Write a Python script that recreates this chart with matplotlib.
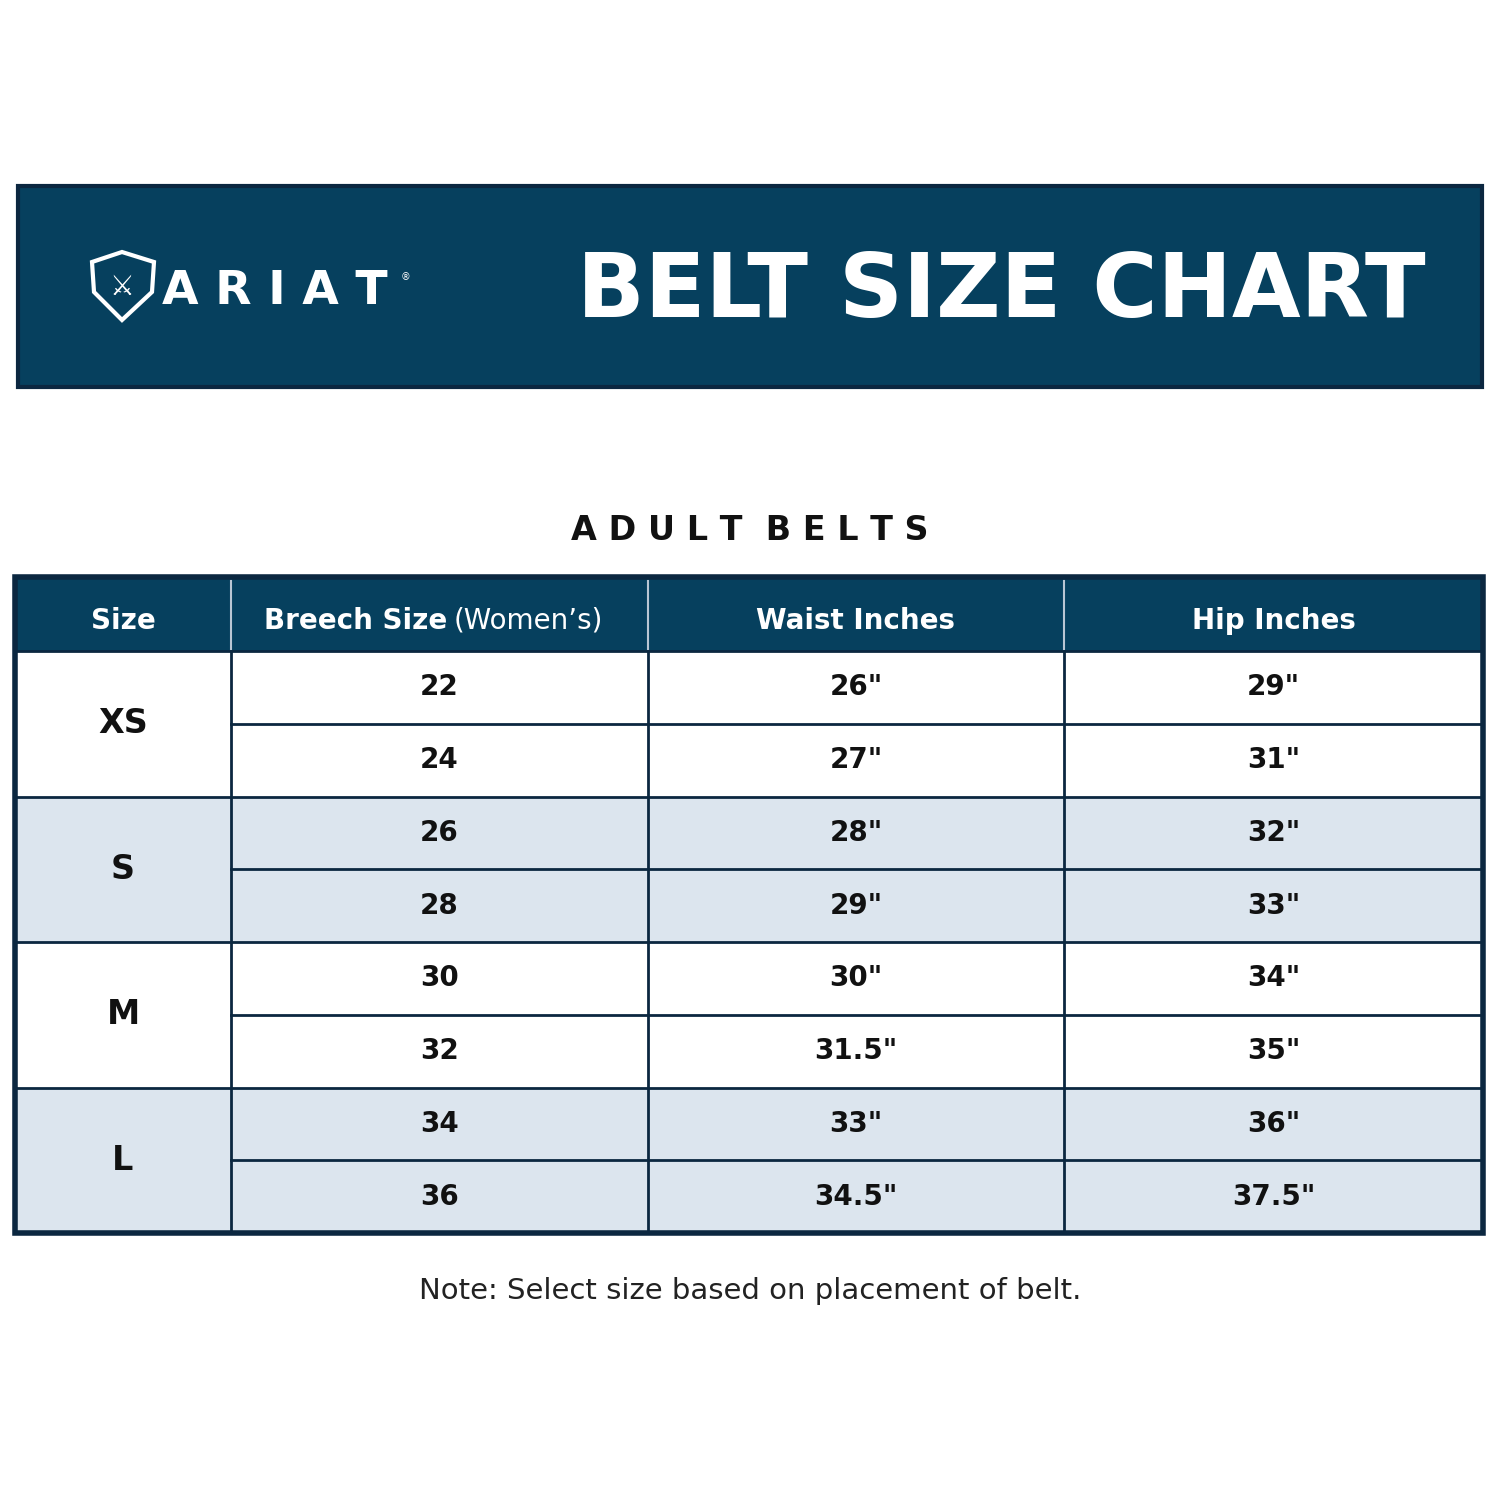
import matplotlib
matplotlib.use("Agg")
import matplotlib.pyplot as plt
from matplotlib.patches import Rectangle, Polygon

sizes = ["XS", "S", "M", "L"]
breech = ["22", "24", "26", "28", "30", "32", "34", "36"]
waist = ['26"', '27"', '28"', '29"', '30"', '31.5"', '33"', '34.5"']
hip = ['29"', '31"', '32"', '33"', '34"', '35"', '36"', '37.5"']
headers = ["Size", "Breech Size", "Waist Inches", "Hip Inches"]

NAVY = "#06405e"
EDGE = "#0b2740"
LIGHT = "#dce5ee"

fig = plt.figure(figsize=(15, 15), dpi=100)
ax = fig.add_axes([0, 0, 1, 1])
ax.set_xlim(0, 1500)
ax.set_ylim(1500, 0)
ax.axis("off")

# title band
ax.add_patch(Rectangle((18, 186), 1464, 201, facecolor=NAVY, edgecolor=EDGE, lw=3))
ax.text(1001, 292, "BELT SIZE CHART", color="white", fontsize=64, fontweight="bold",
        family="DejaVu Sans", ha="center", va="center")
# logo
shield = [(92, 262), (122, 252), (154, 262), (152, 292), (122, 320), (94, 292)]
ax.add_patch(Polygon(shield, closed=True, facecolor="none", edgecolor="white", lw=3))
ax.text(122, 287, "⚔", color="white", fontsize=20, ha="center", va="center")
ax.text(162, 292, "A R I A T", color="white", fontsize=34, fontweight="bold",
        family="DejaVu Sans", ha="left", va="center")
ax.text(405, 277, "®", color="white", fontsize=7, ha="center", va="center")

ax.text(750, 530, "A D U L T  B E L T S", fontsize=24, fontweight="bold", ha="center",
        va="center", color="#111111", family="DejaVu Sans")

# table
cols = [15, 231, 648, 1064, 1483]
top, head_bot, bot = 577, 651, 1233
row_h = (bot - head_bot) / len(breech)

ax.add_patch(Rectangle((15, top), 1468, head_bot - top, facecolor=NAVY, edgecolor="none"))
for i in range(len(sizes)):
    y0 = head_bot + i * 2 * row_h
    fc = "white" if i % 2 == 0 else LIGHT
    ax.add_patch(Rectangle((15, y0), 1468, 2 * row_h, facecolor=fc, edgecolor="none"))
    ax.text((cols[0] + cols[1]) / 2, y0 + row_h, sizes[i], fontsize=24, fontweight="bold",
            ha="center", va="center", color="#111111")

centers = [(cols[j] + cols[j + 1]) / 2 for j in range(4)]
for j, h in enumerate(headers):
    if j == 1:
        ax.text(centers[1] + 8, 621, "Breech Size", fontsize=20, fontweight="bold",
                color="white", ha="right", va="center")
        ax.text(centers[1] + 14, 621, "(Women’s)", fontsize=20, color="white",
                ha="left", va="center")
    else:
        ax.text(centers[j], 621, h, fontsize=20, fontweight="bold", color="white",
                ha="center", va="center")

for r in range(len(breech)):
    yc = head_bot + (r + 0.5) * row_h
    for j, val in enumerate([breech[r], waist[r], hip[r]]):
        ax.text(centers[j + 1], yc, val, fontsize=20, fontweight="bold", ha="center",
                va="center", color="#111111")
    if r > 0:
        x0 = cols[0] if r % 2 == 0 else cols[1]
        ax.plot([x0, cols[-1]], [head_bot + r * row_h] * 2, color=EDGE, lw=2)

for x in cols[1:-1]:
    ax.plot([x, x], [top + 4, head_bot], color="#b9c6d3", lw=1.5)
    ax.plot([x, x], [head_bot, bot], color=EDGE, lw=2)
ax.plot([cols[0], cols[-1]], [head_bot, head_bot], color=EDGE, lw=2)
ax.add_patch(Rectangle((15, top), 1468, bot - top, facecolor="none", edgecolor=EDGE, lw=4))

ax.text(750, 1291, "Note: Select size based on placement of belt.", fontsize=21,
        ha="center", va="center", color="#222222")

fig.savefig("out.png", dpi=100, facecolor="white")
